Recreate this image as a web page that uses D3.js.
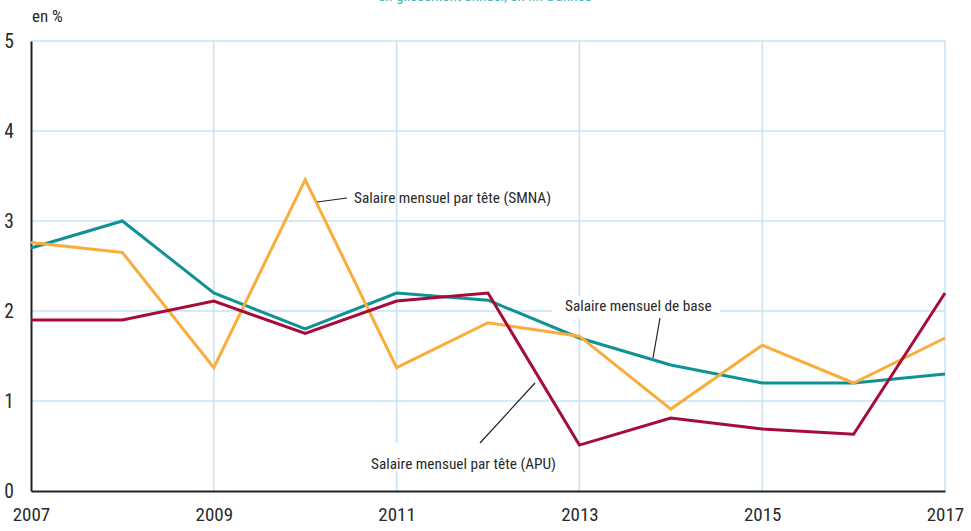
<!DOCTYPE html>
<html><head><meta charset="utf-8">
<script src="https://cdn.jsdelivr.net/npm/d3@7"></script>
<style>
body{margin:0;background:#fff;}
text{font-family:"Liberation Sans Narrow","Arial Narrow","Roboto Condensed","Liberation Sans",sans-serif;fill:#2a2a2a;}
</style></head><body>
<svg id="c" width="971" height="531"></svg>
<script>
const years = [2007,2008,2009,2010,2011,2012,2013,2014,2015,2016,2017];
const base = [2.7,3.0,2.2,1.8,2.2,2.12,1.7,1.4,1.2,1.2,1.3];
const smna = [2.76,2.65,1.37,3.46,1.37,1.87,1.72,0.91,1.62,1.2,1.7];
const apu  = [1.9,1.9,2.11,1.75,2.11,2.2,0.51,0.81,0.69,0.63,2.2];
const yTicks = [0,1,2,3,4,5];
const xTicks = [2007,2009,2011,2013,2015,2017];
const labels = {
  smna:"Salaire mensuel par tête (SMNA)",
  base:"Salaire mensuel de base",
  apu:"Salaire mensuel par tête (APU)"
};
const colors = {base:"#0f9196", smna:"#f8ad3c", apu:"#a50b3b"};

const svg = d3.select("#c");
const x = d3.scaleLinear().domain([2007,2017]).range([31,945]);
const y = d3.scaleLinear().domain([0,5]).range([491,41]);
const grid = "#c8e2f3";

// title (cut off at top)
svg.append("text").attr("x",485).attr("y",1).attr("text-anchor","middle")
  .style("font-size","15px").style("fill","#3fb3b8").text("en glissement annuel, en fin d'année");

// horizontal grid
svg.append("g").selectAll("line").data(yTicks.filter(d=>d>0)).join("line")
  .attr("x1",x(2007)).attr("x2",x(2017)).attr("y1",d=>y(d)).attr("y2",d=>y(d))
  .attr("stroke",grid).attr("stroke-width",1.5);
// vertical grid
svg.append("g").selectAll("line").data(xTicks.filter(d=>d>2007)).join("line")
  .attr("x1",d=>x(d)).attr("x2",d=>x(d)).attr("y1",y(5)).attr("y2",y(0))
  .attr("stroke",grid).attr("stroke-width",1.5);

// y axis
const ya = svg.append("g").attr("transform",`translate(${x(2007)},0)`)
  .call(d3.axisLeft(y).tickValues(yTicks).tickFormat(d3.format("d")).tickSize(0).tickPadding(17));
ya.select(".domain").attr("stroke","#222").attr("stroke-width",2);
ya.selectAll("text").style("font-size","19.5px").attr("dy","0.35em");
// x axis
const xa = svg.append("g").attr("transform",`translate(0,${y(0)})`)
  .call(d3.axisBottom(x).tickValues(xTicks).tickFormat(d3.format("d")).tickSize(0).tickPadding(17));
xa.select(".domain").attr("stroke","#222").attr("stroke-width",2);
xa.selectAll("text").style("font-size","19px");

svg.append("text").attr("x",32).attr("y",22).style("font-size","17px").text("en %");

// label background boxes (interrupt grid)
svg.append("rect").attr("x",552).attr("y",296).attr("width",168).attr("height",22).attr("fill","#fff");
svg.append("rect").attr("x",365).attr("y",443).attr("width",196).attr("height",28).attr("fill","#fff");

const line = d3.line().x((d,i)=>x(years[i])).y(d=>y(d));
[["base",base],["smna",smna],["apu",apu]].forEach(([k,v])=>{
  svg.append("path").datum(v).attr("d",line).attr("fill","none")
    .attr("stroke",colors[k]).attr("stroke-width",3).attr("stroke-linejoin","miter");
});

// annotations
const ann = svg.append("g");
ann.append("line").attr("x1",317).attr("y1",202).attr("x2",347).attr("y2",198).attr("stroke","#222").attr("stroke-width",1.2);
ann.append("text").attr("x",354).attr("y",198).attr("dy","0.35em").style("font-size","15.3px").text(labels.smna);
ann.append("line").attr("x1",660).attr("y1",318).attr("x2",653).attr("y2",358).attr("stroke","#222").attr("stroke-width",1.2);
ann.append("text").attr("x",565).attr("y",306).attr("dy","0.35em").style("font-size","15.3px").text(labels.base);
ann.append("line").attr("x1",480).attr("y1",443).attr("x2",535).attr("y2",383).attr("stroke","#222").attr("stroke-width",1.2);
ann.append("text").attr("x",371).attr("y",464).attr("dy","0.35em").style("font-size","15.3px").text(labels.apu);
</script>
</body></html>
